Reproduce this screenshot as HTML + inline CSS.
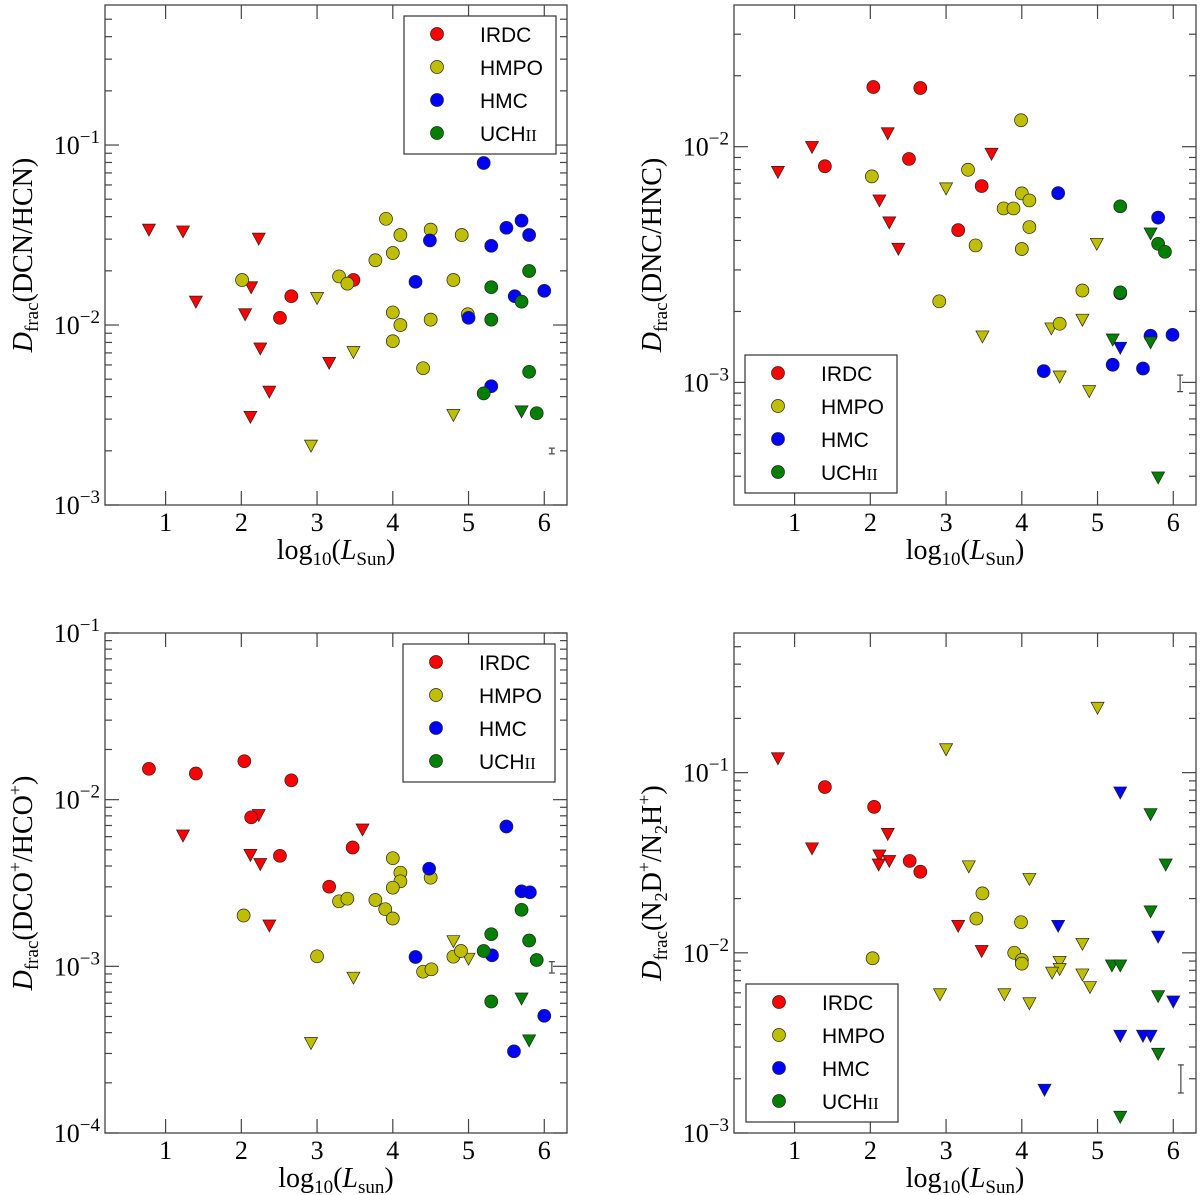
<!DOCTYPE html>
<html><head><meta charset="utf-8"><title>Deuterium fractionation vs luminosity</title>
<style>
html,body{margin:0;padding:0;background:#fff;}
svg{display:block;}
text{font-family:"Liberation Serif",serif;fill:#000;}
.leg{font-family:"Liberation Sans",sans-serif;font-size:21px;}
</style></head>
<body>
<svg id="fig" width="1200" height="1195" viewBox="0 0 1200 1195" xmlns="http://www.w3.org/2000/svg"></svg>
<script>
// ===== Data (x = log10 L, y = log10 Dfrac) =====
// Panel 1: DCN/HCN
const p1IrdcX=[2.51,2.66,3.48];            const p1IrdcY=[-1.96,-1.84,-1.75];
const p1IrdcLimX=[0.78,1.23,1.40,2.05,2.13,2.23,2.25,2.37,2.12,3.16];
const p1IrdcLimY=[-1.47,-1.48,-1.87,-1.94,-1.79,-1.52,-2.13,-2.37,-2.51,-2.21];
const p1HmpoX=[2.01,3.29,3.40,3.77,3.91,4.00,4.10,4.00,4.10,4.00,4.40,4.50,4.50,4.80,4.91,4.99];
const p1HmpoY=[-1.75,-1.73,-1.77,-1.64,-1.41,-1.60,-1.50,-1.93,-2.00,-2.09,-2.24,-1.47,-1.97,-1.75,-1.50,-1.94];
const p1HmpoLimX=[3.00,3.48,2.92,4.80];    const p1HmpoLimY=[-1.85,-2.15,-2.67,-2.50];
const p1HmcX=[5.20,4.49,4.30,5.30,5.50,5.70,5.80,6.00,5.61,5.00,5.30];
const p1HmcY=[-1.10,-1.53,-1.76,-1.56,-1.46,-1.42,-1.50,-1.81,-1.84,-1.96,-2.34];
const p1HmcLimX=[];                        const p1HmcLimY=[];
const p1UchX=[5.80,5.30,5.70,5.30,5.80,5.20,5.90];
const p1UchY=[-1.70,-1.79,-1.87,-1.97,-2.26,-2.38,-2.49];
const p1UchLimX=[5.70];                    const p1UchLimY=[-2.48];
const p1Err=[6.10,-2.70,0.016];

// Panel 2: DNC/HNC
const p2IrdcX=[2.04,2.66,1.40,2.51,3.47,3.16];
const p2IrdcY=[-1.747,-1.751,-2.083,-2.052,-2.167,-2.354];
const p2IrdcLimX=[0.78,1.23,2.23,2.12,2.25,2.37,3.60];
const p2IrdcLimY=[-2.107,-2.001,-1.943,-2.228,-2.321,-2.433,-2.030];
const p2HmpoX=[3.99,2.02,3.29,4.00,4.10,3.76,3.89,4.10,3.39,4.00,2.91,4.80,4.50];
const p2HmpoY=[-1.888,-2.126,-2.098,-2.198,-2.228,-2.262,-2.262,-2.341,-2.419,-2.434,-2.656,-2.610,-2.751];
const p2HmpoLimX=[3.00,4.99,4.80,4.39,3.48,4.50,4.89];
const p2HmpoLimY=[-2.177,-2.412,-2.734,-2.771,-2.805,-2.975,-3.037];
const p2HmcX=[4.48,5.80,5.70,5.99,5.20,4.29,5.60,5.30];
const p2HmcY=[-2.197,-2.301,-2.802,-2.798,-2.925,-2.952,-2.941,-2.622];
const p2HmcLimX=[5.30];                    const p2HmcLimY=[-2.853];
const p2UchX=[5.30,5.80,5.89,5.30];        const p2UchY=[-2.253,-2.412,-2.446,-2.618];
const p2UchLimX=[5.70,5.20,5.70,5.80];     const p2UchLimY=[-2.368,-2.818,-2.830,-3.403];
const p2Err=[6.09,-3.004,0.035];

// Panel 3: DCO+/HCO+
const p3IrdcX=[0.78,1.40,2.04,2.66,2.13,2.51,3.47,3.16];
const p3IrdcY=[-1.815,-1.843,-1.769,-1.884,-2.106,-2.337,-2.287,-2.522];
const p3IrdcLimX=[1.23,2.23,2.12,2.25,2.37,3.60];
const p3IrdcLimY=[-2.215,-2.092,-2.331,-2.386,-2.755,-2.179];
const p3HmpoX=[2.03,3.00,3.29,3.40,3.77,3.90,4.00,4.00,4.10,4.10,4.00,4.50,4.40,4.51,4.80,4.90];
const p3HmpoY=[-2.695,-2.940,-2.610,-2.594,-2.602,-2.657,-2.713,-2.351,-2.438,-2.490,-2.528,-2.468,-3.032,-3.018,-2.942,-2.908];
const p3HmpoLimX=[2.92,3.48,4.80,5.00];    const p3HmpoLimY=[-3.460,-3.068,-2.849,-2.954];
const p3HmcX=[5.50,4.48,5.70,5.81,4.30,5.31,6.00,5.60];
const p3HmcY=[-2.161,-2.414,-2.550,-2.556,-2.944,-2.934,-3.297,-3.510];
const p3HmcLimX=[];                        const p3HmcLimY=[];
const p3UchX=[5.70,5.30,5.20,5.80,5.90,5.30];
const p3UchY=[-2.661,-2.807,-2.908,-2.845,-2.962,-3.211];
const p3UchLimX=[5.70,5.80];               const p3UchLimY=[-3.193,-3.444];
const p3Err=[6.10,-3.006,0.034];

// Panel 4: N2D+/N2H+
const p4IrdcX=[1.40,2.05,2.52,2.66];       const p4IrdcY=[-1.08,-1.19,-1.49,-1.55];
const p4IrdcLimX=[0.78,1.23,2.23,2.12,2.11,2.25,3.16,3.47];
const p4IrdcLimY=[-0.92,-1.42,-1.34,-1.46,-1.51,-1.49,-1.85,-1.99];
const p4HmpoX=[2.03,3.48,3.40,3.99,3.90,4.00,4.00];
const p4HmpoY=[-2.03,-1.67,-1.81,-1.83,-2.00,-2.04,-2.06];
const p4HmpoLimX=[5.00,3.00,3.30,4.10,4.80,4.50,4.50,4.40,4.80,4.90,2.92,3.77,4.10];
const p4HmpoLimY=[-0.64,-0.87,-1.52,-1.59,-1.95,-2.05,-2.09,-2.11,-2.12,-2.19,-2.23,-2.23,-2.28];
const p4HmcX=[];                           const p4HmcY=[];
const p4HmcLimX=[5.30,4.48,5.80,6.00,5.30,5.60,5.70,4.30];
const p4HmcLimY=[-1.11,-1.85,-1.91,-2.27,-2.46,-2.46,-2.46,-2.76];
const p4UchX=[];                           const p4UchY=[];
const p4UchLimX=[5.70,5.90,5.70,5.19,5.30,5.80,5.80,5.30];
const p4UchLimY=[-1.23,-1.51,-1.77,-2.07,-2.07,-2.24,-2.56,-2.91];
const p4Err=[6.10,-2.70,0.078];

const xTicks=[1,2,3,4,5,6];
const legendLabels=["IRDC","HMPO","HMC","UCH"];
const colors=["#ff0000","#bfbf00","#0000ff","#007f00"];

// ===== Drawing =====
const NS="http://www.w3.org/2000/svg";
const svg=document.getElementById('fig');
function mk(tag,attrs,parent){const e=document.createElementNS(NS,tag);for(const k in attrs)e.setAttribute(k,attrs[k]);(parent||svg).appendChild(e);return e;}

function drawPanel(cfg){
  const g=mk('g',{});
  
  
  const {L,R,T,B,xmin,xmax,ymin,ymax}=cfg;
  const sx=v=>L+(v-xmin)/(xmax-xmin)*(R-L);
  const sy=v=>B-(v-ymin)/(ymax-ymin)*(B-T);
  const tk=mk('g',{stroke:'#444','stroke-width':1.2},g);
  
  
  xTicks.forEach(v=>{
    const x=sx(v);
    mk('line',{x1:x,x2:x,y1:B,y2:B-14},tk);
    mk('line',{x1:x,x2:x,y1:T,y2:T+14},tk);
    const t=mk('text',{x:x,y:B+26,'font-size':26,'text-anchor':'middle'},g);
    t.textContent=v;
    
    
  });
  for(let d=Math.floor(ymin);d<=Math.ceil(ymax);d++){
    for(let k=1;k<=9;k++){
      const v=d+Math.log10(k);
      if(v<ymin-1e-6||v>ymax+1e-6)continue;
      const y=sy(v), len=k===1?14:7;
      mk('line',{x1:L,x2:L+len,y1:y,y2:y},tk);
      mk('line',{x1:R,x2:R-len,y1:y,y2:y},tk);
      if(k===1){
        const t=mk('text',{x:L-5,y:y+9,'font-size':26,'text-anchor':'end'},g);
        
        
        t.innerHTML='10<tspan font-size="19" dy="-11">\u2212'+(-d)+'</tspan>';
      }
    }
  }
  const fr=mk('rect',{x:L,y:T,width:R-L,height:B-T,fill:'none',stroke:'#444','stroke-width':1.3},g);
  
  
  const cy=(T+B)/2;
  const yt=mk('text',{x:0,y:0,'font-size':28,'text-anchor':'middle',transform:`translate(${L-73},${cy}) rotate(-90)`},g);
  
  
  yt.innerHTML='<tspan font-style="italic">D</tspan><tspan font-size="19" dy="6">frac</tspan><tspan dy="-6">'+cfg.ytitle+'</tspan>';
  const xt=mk('text',{x:(L+R)/2,y:B+54,'font-size':28,'text-anchor':'middle'},g);
  
  
  xt.innerHTML='log<tspan font-size="19" dy="6">10</tspan><tspan dy="-6">(</tspan><tspan font-style="italic">L</tspan><tspan font-size="19" dy="6">'+cfg.sun+'</tspan><tspan dy="-6">)</tspan>';
  const series=cfg.series;
  series.forEach((s,i)=>{
    const sg=mk('g',{},g);
    
    
    s.lx.forEach((xv,j)=>{
      const x=sx(xv),y=sy(s.ly[j]);
      const p=mk('polygon',{points:`${x-6.5},${y-5.5} ${x+6.5},${y-5.5} ${x},${y+6.5}`,fill:colors[i],stroke:'#222','stroke-width':0.7},sg);
      
      
    });
    s.x.forEach((xv,j)=>{
      const c=mk('circle',{cx:sx(xv),cy:sy(s.y[j]),r:6.5,fill:colors[i],stroke:'#222','stroke-width':0.7},sg);
      
      
    });
  });
  const e=cfg.err, ex=sx(e[0]), y1=sy(e[1]+e[2]), y2=sy(e[1]-e[2]);
  const eg=mk('g',{stroke:'#444','stroke-width':1.2},g);
  
  
  mk('line',{x1:ex,x2:ex,y1:y1,y2:y2},eg);
  mk('line',{x1:ex-3,x2:ex+3,y1:y1,y2:y1},eg);
  mk('line',{x1:ex-3,x2:ex+3,y1:y2,y2:y2},eg);
  const lg=mk('g',{},g);
  
  
  const lx=cfg.leg[0], ly=cfg.leg[1];
  mk('rect',{x:lx,y:ly,width:152,height:138,fill:'#fff',stroke:'#333','stroke-width':1.2},lg);
  legendLabels.forEach((lab,i)=>{
    const ry=ly+18+i*33;
    const en=mk('g',{},lg);
    
    
    mk('circle',{cx:lx+33,cy:ry,r:6.5,fill:colors[i],stroke:'#222','stroke-width':0.7},en);
    const t=mk('text',{x:lx+76,y:ry+8,class:'leg'},en);
    t.innerHTML=lab+(i===3?'<tspan style="font-family:\'Liberation Serif\',serif" font-size="17">II</tspan>':'');
  });
}

drawPanel({name:'panel-dcn-hcn',L:105,R:567,T:5,B:505,xmin:0.2,xmax:6.3,ymin:-3,ymax:-0.222,
  ytitle:'(DCN/HCN)',sun:'Sun',leg:[404,16],err:p1Err,
  series:[{x:p1IrdcX,y:p1IrdcY,lx:p1IrdcLimX,ly:p1IrdcLimY},{x:p1HmpoX,y:p1HmpoY,lx:p1HmpoLimX,ly:p1HmpoLimY},
          {x:p1HmcX,y:p1HmcY,lx:p1HmcLimX,ly:p1HmcLimY},{x:p1UchX,y:p1UchY,lx:p1UchLimX,ly:p1UchLimY}]});
drawPanel({name:'panel-dnc-hnc',L:734,R:1196,T:5,B:505,xmin:0.2,xmax:6.3,ymin:-3.52,ymax:-1.399,
  ytitle:'(DNC/HNC)',sun:'Sun',leg:[745,355],err:p2Err,
  series:[{x:p2IrdcX,y:p2IrdcY,lx:p2IrdcLimX,ly:p2IrdcLimY},{x:p2HmpoX,y:p2HmpoY,lx:p2HmpoLimX,ly:p2HmpoLimY},
          {x:p2HmcX,y:p2HmcY,lx:p2HmcLimX,ly:p2HmcLimY},{x:p2UchX,y:p2UchY,lx:p2UchLimX,ly:p2UchLimY}]});
drawPanel({name:'panel-dco-hco',L:105,R:567,T:633,B:1133,xmin:0.2,xmax:6.3,ymin:-4,ymax:-1,
  ytitle:'(DCO<tspan font-size="18" dy="-11">+</tspan><tspan dy="11">/HCO</tspan><tspan font-size="18" dy="-11">+</tspan><tspan dy="11">)</tspan>',sun:'sun',leg:[403,644],err:p3Err,
  series:[{x:p3IrdcX,y:p3IrdcY,lx:p3IrdcLimX,ly:p3IrdcLimY},{x:p3HmpoX,y:p3HmpoY,lx:p3HmpoLimX,ly:p3HmpoLimY},
          {x:p3HmcX,y:p3HmcY,lx:p3HmcLimX,ly:p3HmcLimY},{x:p3UchX,y:p3UchY,lx:p3UchLimX,ly:p3UchLimY}]});
drawPanel({name:'panel-n2d-n2h',L:734,R:1196,T:633,B:1133,xmin:0.2,xmax:6.3,ymin:-3,ymax:-0.225,
  ytitle:'(N<tspan font-size="18" dy="6">2</tspan><tspan dy="-6">D</tspan><tspan font-size="18" dy="-11">+</tspan><tspan dy="11">/N</tspan><tspan font-size="18" dy="6">2</tspan><tspan dy="-6">H</tspan><tspan font-size="18" dy="-11">+</tspan><tspan dy="11">)</tspan>',sun:'Sun',leg:[746,984],err:p4Err,
  series:[{x:p4IrdcX,y:p4IrdcY,lx:p4IrdcLimX,ly:p4IrdcLimY},{x:p4HmpoX,y:p4HmpoY,lx:p4HmpoLimX,ly:p4HmpoLimY},
          {x:p4HmcX,y:p4HmcY,lx:p4HmcLimX,ly:p4HmcLimY},{x:p4UchX,y:p4UchY,lx:p4UchLimX,ly:p4UchLimY}]});
</script>
</body></html>
